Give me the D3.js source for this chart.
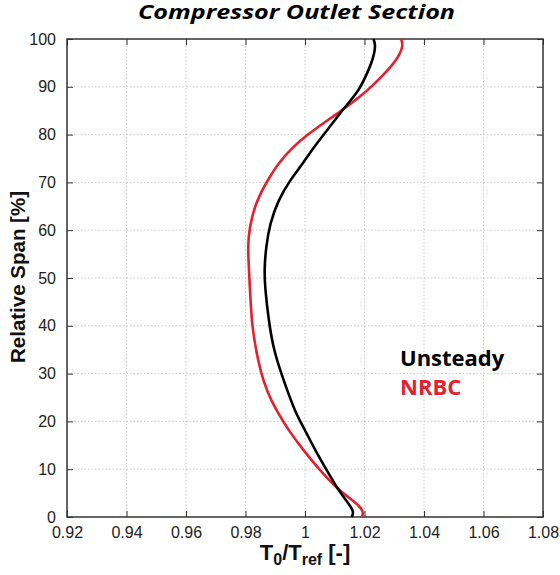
<!DOCTYPE html>
<html><head><meta charset="utf-8">
<script src="https://cdn.jsdelivr.net/npm/d3@7"></script>
<style>body{margin:0;background:#fff;}svg{display:block;}</style>
</head><body>
<svg id="chart" width="560" height="575"></svg>
<script>
const xTicks = [0.92, 0.94, 0.96, 0.98, 1.00, 1.02, 1.04, 1.06, 1.08];
const xTickLabels = ["0.92","0.94","0.96","0.98","1","1.02","1.04","1.06","1.08"];
const yTicks = [0,10,20,30,40,50,60,70,80,90,100];

const unsteadySpan = [0, 1.1, 2.9, 5.6, 9.8, 14.0, 18.2, 21.3, 25.5, 29.7, 35.3, 41.6, 47.8, 51.7, 56.5, 61.4, 66.3, 70.5, 73.6, 76.8, 79.9, 84.0, 86.2, 89.0, 92.5, 96.0, 98.7, 100];
const unsteadyT    = [1.0157, 1.0165, 1.0146, 1.0112, 1.0073, 1.0034, 1.0000, 0.9972, 0.9946, 0.9922, 0.9893, 0.9877, 0.9866, 0.9863, 0.9869, 0.9882, 0.9910, 0.9950, 0.9989, 1.0023, 1.0062, 1.0112, 1.0140, 1.0179, 1.0207, 1.0230, 1.0238, 1.0230];

const nrbcSpan = [0, 0.8, 2.2, 3.9, 6.0, 9.8, 14.0, 18.2, 21.3, 24.1, 28.3, 33.9, 40.2, 47.8, 54.5, 58.6, 62.8, 67.0, 71.2, 74.0, 77.5, 79.9, 82.4, 84.8, 87.9, 90.4, 93.9, 96.7, 98.7, 100];
const nrbcT    = [1.0190, 1.0198, 1.0185, 1.0151, 1.0107, 1.0050, 0.9994, 0.9944, 0.9914, 0.9888, 0.9860, 0.9838, 0.9821, 0.9815, 0.9809, 0.9809, 0.9821, 0.9843, 0.9882, 0.9910, 0.9961, 1.0006, 1.0062, 1.0118, 1.0185, 1.0230, 1.0286, 1.0319, 1.0330, 1.0323];

const seriesNames = ["Unsteady", "NRBC"];
const seriesColors = ["#000000", "#e3202c"];

const svg = d3.select("#chart");
const m = {left: 67, right: 543, top: 39, bottom: 517};
const x = d3.scaleLinear().domain([0.92, 1.08]).range([m.left, m.right]);
const y = d3.scaleLinear().domain([0, 100]).range([m.bottom, m.top]);

// grid
const grid = svg.append("g");
grid.selectAll("line.gx").data(xTicks.slice(1, -1)).enter().append("line")
  .attr("x1", d => x(d)).attr("x2", d => x(d)).attr("y1", m.top).attr("y2", m.bottom)
  .attr("stroke", "#bbb").attr("stroke-width", 0.8).attr("stroke-dasharray", "1.5,2");
grid.selectAll("line.gy").data(yTicks.slice(1, -1)).enter().append("line")
  .attr("y1", d => y(d)).attr("y2", d => y(d)).attr("x1", m.left).attr("x2", m.right)
  .attr("stroke", "#bbb").attr("stroke-width", 0.8).attr("stroke-dasharray", "1.5,2");

// axes
const tickFont = "Liberation Sans, Arial, sans-serif";
const xb = svg.append("g").attr("transform", `translate(0,${m.bottom})`)
  .call(d3.axisBottom(x).tickValues(xTicks).tickFormat((d,i) => xTickLabels[i]).tickSizeInner(-6).tickSizeOuter(0).tickPadding(10));
const xt = svg.append("g").attr("transform", `translate(0,${m.top})`)
  .call(d3.axisTop(x).tickValues(xTicks).tickFormat("").tickSizeInner(-6).tickSizeOuter(0));
const yl = svg.append("g").attr("transform", `translate(${m.left},0)`)
  .call(d3.axisLeft(y).tickValues(yTicks).tickSizeInner(-6).tickSizeOuter(0).tickPadding(11));
const yr = svg.append("g").attr("transform", `translate(${m.right},0)`)
  .call(d3.axisRight(y).tickValues(yTicks).tickFormat("").tickSizeInner(-6).tickSizeOuter(0));
[xb, xt, yl, yr].forEach(g => {
  g.select(".domain").remove();
  g.selectAll(".tick line").attr("stroke", "#333").attr("stroke-width", 1);
  g.selectAll("text").attr("font-family", tickFont).attr("font-size", 16).attr("fill", "#222");
});

// frame
svg.append("rect").attr("x", m.left).attr("y", m.top).attr("width", m.right - m.left).attr("height", m.bottom - m.top)
  .attr("fill", "none").attr("stroke", "#333").attr("stroke-width", 1.5);

// lines
const line = d3.line().x(d => x(d[0])).y(d => y(d[1])).curve(d3.curveBasis);
const data = [
  unsteadyT.map((t, i) => [t, unsteadySpan[i]]),
  nrbcT.map((t, i) => [t, nrbcSpan[i]])
];
const plot = svg.append("g");
[1, 0].forEach(k => {
  plot.append("path").datum(data[k]).attr("d", line).attr("fill", "none")
    .attr("stroke", seriesColors[k]).attr("stroke-width", 2.6).attr("stroke-linejoin", "round");
});

// title
svg.append("text").attr("x", 296.5).attr("y", 19).attr("text-anchor", "middle")
  .attr("font-family", "Open Sans, sans-serif").attr("font-style", "italic").attr("font-weight", "bold")
  .attr("font-size", 19).attr("textLength", 317).attr("lengthAdjust", "spacingAndGlyphs")
  .attr("fill", "#000").text("Compressor Outlet Section");

// axis labels
svg.append("text").attr("transform", "translate(25,277) rotate(-90)").attr("text-anchor", "middle")
  .attr("font-family", tickFont).attr("font-weight", "bold").attr("font-size", 20.5).attr("fill", "#111")
  .text("Relative Span [%]");
const xl = svg.append("text").attr("x", 305).attr("y", 560).attr("text-anchor", "middle")
  .attr("font-family", tickFont).attr("font-weight", "bold").attr("font-size", 22).attr("fill", "#111");
xl.append("tspan").text("T");
xl.append("tspan").attr("font-size", 16).attr("dy", 5).text("0");
xl.append("tspan").attr("dy", -5).text("/T");
xl.append("tspan").attr("font-size", 16).attr("dy", 5).text("ref");
xl.append("tspan").attr("dy", -5).text(" [-]");

// legend
seriesNames.forEach((n, i) => {
  svg.append("text").attr("x", 400).attr("y", 366 + i * 29)
    .attr("font-family", "Open Sans, sans-serif").attr("font-weight", "bold").attr("font-size", 22)
    .attr("fill", seriesColors[i]).text(n);
});
</script>
</body></html>
